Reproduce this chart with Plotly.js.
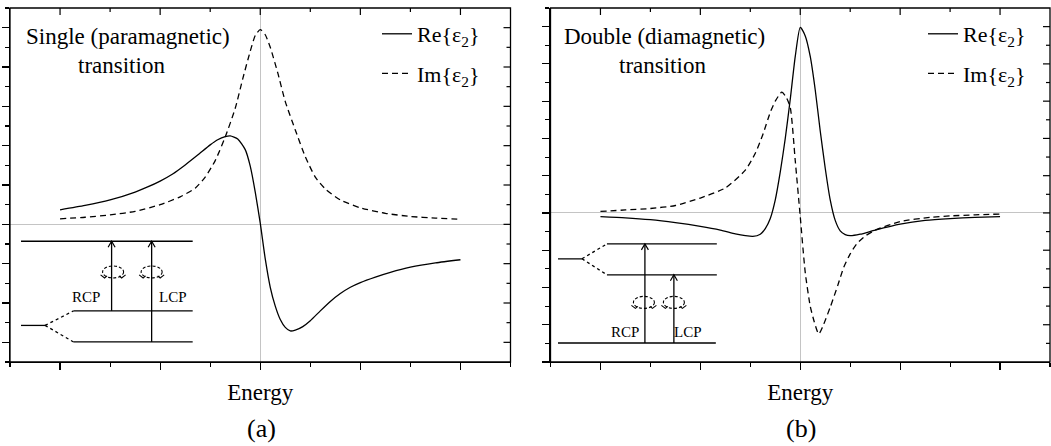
<!DOCTYPE html>
<html>
<head>
<meta charset="utf-8">
<script src="https://cdn.plot.ly/plotly-3.0.1.min.js"></script>
<style>
html,body{margin:0;padding:0;background:#fff;}
#chart{width:1051px;height:446px;}
</style>
</head>
<body>
<div id="chart"></div>
<script>
// ---------- data ----------
const seriesNames = ['Re{ε<sub>2</sub>}', 'Im{ε<sub>2</sub>}'];
const panelLabels = ['(a)', '(b)'];
const panelTitlesLine1 = ['Single (paramagnetic)', 'Double (diamagnetic)'];
const panelTitlesLine2 = ['transition', 'transition'];
const xAxisTitle = 'Energy';
const insetLabels = ['RCP', 'LCP'];

// Panel (a): single (paramagnetic) transition
const aReX = [-4, -3.5, -3, -2.5, -2.25, -2, -1.75, -1.5, -1.25, -1.0, -0.85, -0.7, -0.6, -0.45, -0.3, -0.2, -0.1, 0, 0.1, 0.2, 0.3, 0.4, 0.5, 0.6, 0.7, 0.85, 1.0, 1.2, 1.4, 1.6, 1.8, 2.0, 2.3, 2.6, 3.0, 3.5, 4.0];
const aReY = [0.37, 0.48, 0.62, 0.82, 0.95, 1.1, 1.28, 1.51, 1.76, 2.02, 2.15, 2.23, 2.25, 2.17, 1.9, 1.48, 0.82, 0.03, -0.88, -1.6, -2.08, -2.42, -2.62, -2.71, -2.69, -2.6, -2.45, -2.2, -1.96, -1.76, -1.6, -1.48, -1.34, -1.22, -1.09, -0.98, -0.9];
const aImX = [-4, -3.5, -3, -2.5, -2, -1.6, -1.3, -1.1, -0.9, -0.7, -0.5, -0.35, -0.2, -0.1, 0, 0.1, 0.2, 0.35, 0.5, 0.7, 0.9, 1.1, 1.3, 1.6, 2.0, 2.5, 3.0, 3.5, 4.0];
const aImY = [0.14, 0.18, 0.24, 0.33, 0.5, 0.7, 0.92, 1.2, 1.62, 2.22, 2.95, 3.7, 4.4, 4.8, 4.95, 4.82, 4.5, 3.85, 3.12, 2.4, 1.72, 1.2, 0.9, 0.62, 0.42, 0.28, 0.2, 0.16, 0.13];

// Panel (b): double (diamagnetic) transition
const bReX = [-4, -3.5, -3, -2.5, -2, -1.6, -1.3, -1.1, -0.95, -0.8, -0.7, -0.6, -0.5, -0.4, -0.3, -0.2, -0.1, 0, 0.1, 0.2, 0.3, 0.4, 0.5, 0.6, 0.7, 0.8, 0.9, 1.0, 1.2, 1.5, 2.0, 2.5, 3.0, 3.5, 4.0];
const bReY = [-0.1, -0.13, -0.18, -0.26, -0.36, -0.46, -0.56, -0.61, -0.63, -0.57, -0.42, -0.15, 0.35, 1.1, 2.0, 3.05, 4.2, 4.98, 4.75, 4.2, 3.3, 2.2, 1.2, 0.35, -0.2, -0.48, -0.58, -0.61, -0.57, -0.46, -0.3, -0.2, -0.15, -0.12, -0.1];
const bImX = [-4, -3.5, -3, -2.5, -2, -1.5, -1.1, -0.9, -0.75, -0.6, -0.5, -0.37, -0.28, -0.2, -0.1, 0, 0.1, 0.2, 0.28, 0.37, 0.45, 0.6, 0.75, 0.87, 1.0, 1.13, 1.3, 1.5, 2.0, 2.6, 3.0, 3.5, 4.0];
const bImY = [0.04, 0.08, 0.12, 0.2, 0.4, 0.67, 1.15, 1.6, 2.1, 2.7, 3.0, 3.24, 3.1, 2.83, 1.4, -0.1, -1.6, -2.5, -2.92, -3.25, -3.05, -2.53, -1.95, -1.46, -1.1, -0.83, -0.62, -0.46, -0.23, -0.12, -0.08, -0.05, -0.03];

// ---------- layout helpers ----------
const W = 1051, H = 446;
const px = v => v / W;
const py = v => 1 - v / H;
const serif = 'Liberation Serif, Times New Roman, serif';
const black = '#000';

const lineSolid = () => ({color: black, width: 1.3, shape: 'spline', smoothing: 0.6});
const lineDash = () => ({color: black, width: 1.3, dash: '6px,4px', shape: 'spline', smoothing: 0.6});

const traces = [
  {x: aReX, y: aReY, xaxis: 'x', yaxis: 'y', mode: 'lines', name: seriesNames[0], line: lineSolid(), legend: 'legend', legendgroup: 'a1'},
  {x: aImX, y: aImY, xaxis: 'x', yaxis: 'y', mode: 'lines', name: seriesNames[1], line: lineDash(), legend: 'legend', legendgroup: 'a2'},
  {x: bReX, y: bReY, xaxis: 'x2', yaxis: 'y2', mode: 'lines', name: seriesNames[0], line: lineSolid(), legend: 'legend2', legendgroup: 'b1'},
  {x: bImX, y: bImY, xaxis: 'x2', yaxis: 'y2', mode: 'lines', name: seriesNames[1], line: lineDash(), legend: 'legend2', legendgroup: 'b2'}
];

const yDom = [py(362), py(8)];
const xDomA = [px(10), px(510.5)];
const xDomB = [px(550.5), px(1050)];
const xRange = [-5, 5];
const rangeA = [-3.5, 5.5], rangeB = [-4, 5.5];

const minorX = () => ({ticks: 'outside', ticklen: 4, tickwidth: 1.1, tickcolor: black, dtick: 1, tick0: -5});
const minorY = () => ({ticks: 'outside', ticklen: 4, tickwidth: 1.1, tickcolor: black, dtick: 0.5, tick0: 0});
function xAx(domain, anchor, extra) {
  return Object.assign({
    domain: domain.slice(), anchor: anchor, range: xRange.slice(), fixedrange: true,
    showline: true, linecolor: black, linewidth: 1.3,
    ticks: 'outside', ticklen: 7, tickwidth: 1.2, tickcolor: black,
    tickmode: 'linear', tick0: -4, dtick: 2,
    minor: minorX(),
    showticklabels: false, showgrid: false,
    zeroline: true, zerolinecolor: '#c4c4c4', zerolinewidth: 1,
    automargin: false
  }, extra || {});
}
function yAx(domain, anchor, range, extra) {
  return Object.assign({
    domain: domain.slice(), anchor: anchor, range: range.slice(), fixedrange: true,
    showline: true, linecolor: black, linewidth: 1.3,
    ticks: 'outside', ticklen: 7, tickwidth: 1.2, tickcolor: black,
    tickmode: 'linear', tick0: 0, dtick: 1,
    minor: minorY(),
    showticklabels: false, showgrid: false,
    zeroline: true, zerolinecolor: '#c4c4c4', zerolinewidth: 1,
    automargin: false
  }, extra || {});
}
const titleFont = () => ({family: serif, size: 23, color: black});

const legendBase = (x) => ({x: x, y: py(13), xanchor: 'left', yanchor: 'top', bgcolor: 'rgba(0,0,0,0)',
  font: {family: serif, size: 22, color: black}, tracegroupgap: 8});

const layout = {
  width: W, height: H,
  margin: {l: 0, r: 0, t: 0, b: 0, pad: 0},
  paper_bgcolor: '#fff', plot_bgcolor: 'rgba(0,0,0,0)',
  font: {family: serif, color: black},
  xaxis: xAx(xDomA, 'y', {title: {text: xAxisTitle, font: titleFont(), standoff: 14}}),
  yaxis: yAx(yDom, 'x', rangeA),
  xaxis2: xAx(xDomB, 'y2', {title: {text: xAxisTitle, font: titleFont(), standoff: 14}}),
  yaxis2: yAx(yDom, 'x2', rangeB),
  legend: legendBase(px(377)),
  legend2: legendBase(px(923)),
  showlegend: true,
  shapes: [],
  annotations: []
};

// ---------- closed frame: top and right edges with inward ticks ----------
function addFrame(xd, yd, xr, yr) {
  const xp = v => xd[0] + (v - xr[0]) / (xr[1] - xr[0]) * (xd[1] - xd[0]);
  const yp = v => yd[0] + (v - yr[0]) / (yr[1] - yr[0]) * (yd[1] - yd[0]);
  layout.shapes.push({type: 'rect', xref: 'paper', yref: 'paper', x0: xd[0], x1: xd[1], y0: yd[0], y1: yd[1],
    line: {color: black, width: 1.3}, fillcolor: 'rgba(0,0,0,0)', layer: 'above'});
  for (let v = Math.ceil(xr[0]) + 1; v <= Math.floor(xr[1]) - 1; v++) {
    const len = (v % 2 === 0) ? 7 : 4;
    layout.shapes.push({type: 'line', xref: 'paper', yref: 'paper', x0: xp(v), x1: xp(v), y0: yd[1], y1: yd[1] - len / H,
      line: {color: black, width: 1.2}, layer: 'above'});
  }
  for (let k = Math.ceil(yr[0] * 2) + 1; k <= Math.floor(yr[1] * 2) - 1; k++) {
    const len = (k % 2 === 0) ? 7 : 4;
    layout.shapes.push({type: 'line', xref: 'paper', yref: 'paper', x0: xd[1], x1: xd[1] - len / W, y0: yp(k / 2), y1: yp(k / 2),
      line: {color: black, width: 1.2}, layer: 'above'});
  }
}
addFrame(xDomA, yDom, xRange, rangeA);
addFrame(xDomB, yDom, xRange, rangeB);

// ---------- panel text ----------
const txt = (x, y, text, size) => ({xref: 'paper', yref: 'paper', x: x, y: y, text: text, showarrow: false,
  xanchor: 'center', yanchor: 'middle', font: {family: serif, size: size, color: black}});
layout.annotations.push(
  txt(px(128), py(36), panelTitlesLine1[0], 23),
  txt(px(121), py(66), panelTitlesLine2[0], 23),
  txt(px(664), py(36), panelTitlesLine1[1], 23),
  txt(px(662), py(66), panelTitlesLine2[1], 23),
  txt(px(261), py(428), panelLabels[0], 26),
  txt(px(801), py(428), panelLabels[1], 26)
);

// ---------- inset energy-level diagrams ----------
const ux = 10 / 500;                  // x data units per pixel (both panels)
const uyA = 9 / 354, uyB = 9.5 / 354; // y data units per pixel
function seg(xr, yr, x0, y0, x1, y1, dash, w) {
  return {type: 'line', xref: xr, yref: yr, x0: x0, y0: y0, x1: x1, y1: y1,
    line: {color: black, width: w || 1.3, dash: dash || 'solid'}, layer: 'above'};
}
function swirl(xr, yr, xc, yc, uy) {
  const rx = 10.5 * ux, ry = 6 * uy;
  return [
    {type: 'circle', xref: xr, yref: yr, x0: xc - rx, x1: xc + rx, y0: yc - ry, y1: yc + ry,
      line: {color: black, width: 1.1, dash: '3px,2px'}, layer: 'above'},
    {type: 'path', xref: xr, yref: yr, layer: 'above', line: {color: black, width: 1.1},
      path: 'M' + (xc - rx - 2 * ux) + ',' + (yc - ry + 3 * uy) + 'L' + (xc - rx + 2 * ux) + ',' + (yc - ry) +
            'L' + (xc - rx + 4.5 * ux) + ',' + (yc - ry + 2 * uy)},
    {type: 'path', xref: xr, yref: yr, layer: 'above', line: {color: black, width: 1.1},
      path: 'M' + (xc + rx + 2 * ux) + ',' + (yc - ry + 3 * uy) + 'L' + (xc + rx - 2 * ux) + ',' + (yc - ry) +
            'L' + (xc + rx - 4.5 * ux) + ',' + (yc - ry + 2 * uy)}
  ];
}
function arrowUp(xr, yr, x, yFrom, yTo, uy) {
  return [
    seg(xr, yr, x, yFrom, x, yTo, 'solid', 1.3),
    {type: 'path', xref: xr, yref: yr, layer: 'above', line: {color: black, width: 1.2},
      path: 'M' + (x - 3.5 * ux) + ',' + (yTo - 6 * uy) + 'L' + x + ',' + yTo + 'L' + (x + 3.5 * ux) + ',' + (yTo - 6 * uy)}
  ];
}
function label(xr, yr, x, y, t) {
  return {xref: xr, yref: yr, x: x, y: y, text: t, showarrow: false, xanchor: 'center', yanchor: 'middle',
    font: {family: serif, size: 15, color: black}};
}
// panel (a)
layout.shapes.push(
  seg('x', 'y', -4.78, -0.43, -1.35, -0.43),
  seg('x', 'y', -3.73, -2.2, -1.35, -2.2),
  seg('x', 'y', -3.73, -2.99, -1.35, -2.99),
  seg('x', 'y', -4.78, -2.57, -4.3, -2.57),
  seg('x', 'y', -4.3, -2.57, -3.73, -2.2, '3px,3px'),
  seg('x', 'y', -4.3, -2.57, -3.73, -2.99, '3px,3px'),
  ...arrowUp('x', 'y', -2.97, -2.2, -0.43, uyA),
  ...arrowUp('x', 'y', -2.17, -2.99, -0.43, uyA),
  ...swirl('x', 'y', -2.94, -1.21, uyA),
  ...swirl('x', 'y', -2.17, -1.21, uyA)
);
layout.annotations.push(
  label('x', 'y', -3.48, -1.85, insetLabels[0]),
  label('x', 'y', -1.74, -1.85, insetLabels[1])
);
// panel (b)
layout.shapes.push(
  seg('x2', 'y2', -3.87, -0.83, -1.67, -0.83),
  seg('x2', 'y2', -3.87, -1.66, -1.67, -1.66),
  seg('x2', 'y2', -4.85, -3.49, -1.69, -3.49),
  seg('x2', 'y2', -4.85, -1.23, -4.37, -1.23),
  seg('x2', 'y2', -4.37, -1.23, -3.87, -0.83, '3px,3px'),
  seg('x2', 'y2', -4.37, -1.23, -3.87, -1.66, '3px,3px'),
  ...arrowUp('x2', 'y2', -3.11, -3.49, -0.83, uyB),
  ...arrowUp('x2', 'y2', -2.53, -3.49, -1.66, uyB),
  ...swirl('x2', 'y2', -3.13, -2.4, uyB),
  ...swirl('x2', 'y2', -2.53, -2.4, uyB)
);
layout.annotations.push(
  label('x2', 'y2', -3.5, -3.2, insetLabels[0]),
  label('x2', 'y2', -2.25, -3.2, insetLabels[1])
);

Plotly.newPlot('chart', traces, layout, {displayModeBar: false, staticPlot: true});
</script>
</body>
</html>
